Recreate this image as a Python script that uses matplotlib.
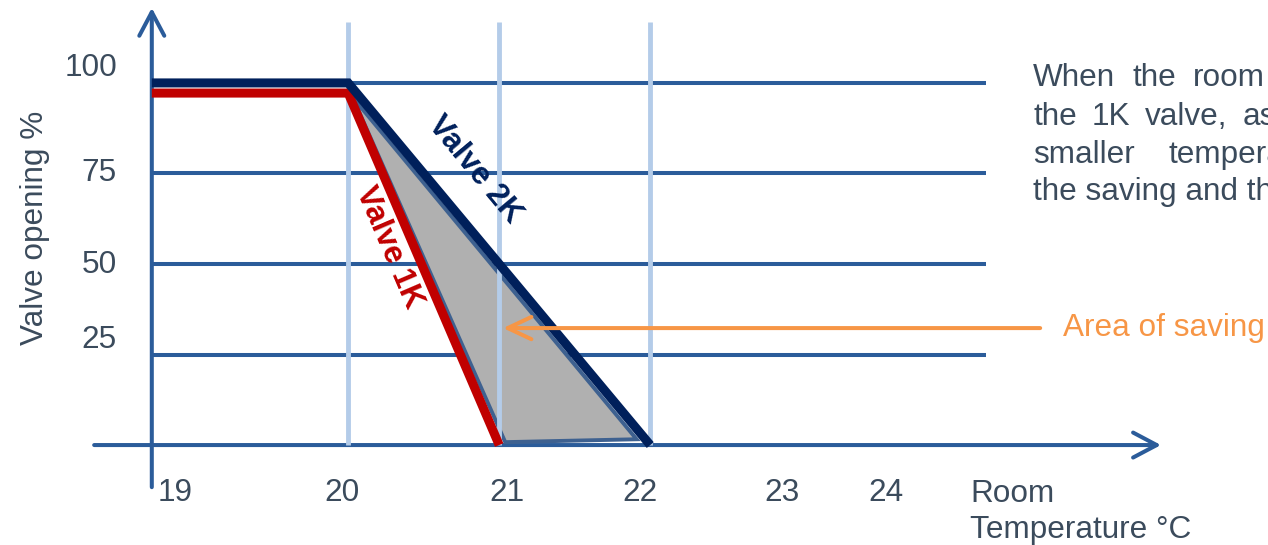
import matplotlib.pyplot as plt
from matplotlib.patches import Polygon, FancyArrowPatch

plt.rcParams['font.family'] = ['Liberation Sans', 'DejaVu Sans']

# valve curves (room temperature in °C, valve opening in %)
temp_2k = [18.70, 20, 22]
open_2k = [100, 100, 0]
temp_1k = [18.70, 20, 21]
open_1k = [97.2, 97.2, 0]

# shaded area of saving between the two valves
saving_temp = [20.03, 21.04, 21.91]
saving_open = [96, 0.8, 1.6]

ytick_values = [25, 50, 75, 100]
ytick_labels = ['25', '50', '75', '100']
xtick_labels = ['19', '20', '21', '22', '23', '24']
vline_temps = [20, 21, 22]

# explanatory text, justified word by word (runs off the slide at the right)
text_words = [['When', 'the', 'room'],
              ['the', '1K', 'valve,', 'as'],
              ['smaller', 'temperature'],
              ['the saving and the']]

# colours
grid_c = '#2b5c9a'
light_c = '#b4cce9'
navy = '#00205b'
red = '#c00000'
orange = '#f79646'
txt_c = '#3b4b5c'
fs = 22.7

fig = plt.figure(figsize=(12.68, 5.45), dpi=100)
ax = fig.add_axes([0, 0, 1, 1])
ax.set_xlim(17.695, 26.09)
ax.set_ylim(-27.6, 122.9)
ax.axis('off')

x_axis0 = 18.70   # where the vertical axis sits
x_grid_end = 24.22

# horizontal grid lines
for v in ytick_values:
    start = 20 if v == 100 else x_axis0
    ax.plot([start, x_grid_end], [v, v], color=grid_c, lw=2.9,
            solid_capstyle='butt', zorder=1)

# x axis with open arrow head
ax.add_patch(FancyArrowPatch((18.30, 0), (25.40, 0), arrowstyle='->,head_length=0.85,head_width=0.45',
                             mutation_scale=20, color=grid_c, lw=2.9, zorder=1.5))
# y axis with open arrow head
ax.add_patch(FancyArrowPatch((x_axis0, -12.4), (x_axis0, 121.5), arrowstyle='->,head_length=0.85,head_width=0.45',
                             mutation_scale=20, color=grid_c, lw=2.9, zorder=1.5))

# area of saving
ax.add_patch(Polygon(list(zip(saving_temp, saving_open)), closed=True,
                     facecolor='#b0b0b0', edgecolor='#3e6190', lw=2.8, zorder=2))

# light vertical lines
for t in vline_temps:
    ax.plot([t, t], [0, 116.9], color=light_c, lw=3.5, solid_capstyle='butt', zorder=3)

# valve lines
ax.plot(temp_1k, open_1k, color=red, lw=6.5, solid_capstyle='butt',
        solid_joinstyle='miter', zorder=4)
ax.plot(temp_2k, open_2k, color=navy, lw=6.5, solid_capstyle='butt',
        solid_joinstyle='miter', zorder=5)

ax.text(20.84, 76.0, 'Valve 2K', color=navy, fontsize=fs, fontweight='bold',
        rotation=-50.2, rotation_mode='anchor', ha='center', va='center', zorder=6)
ax.text(20.27, 54.5, 'Valve 1K', color=red, fontsize=fs, fontweight='bold',
        rotation=-66.8, rotation_mode='anchor', ha='center', va='center', zorder=6)

# arrow pointing to the area of saving
ax.add_patch(FancyArrowPatch((24.60, 32.3), (21.007, 32.3), arrowstyle='->,head_length=0.85,head_width=0.4',
                             mutation_scale=20, color=orange, lw=2.9, zorder=7))
ax.text(24.73, 32.3, 'Area of saving', color=orange, fontsize=fs, ha='left', va='center')

# tick labels (placed as on the slide)
ytick_y = [29.0, 49.7, 75.1, 104.1]
for y, lab in zip(ytick_y, ytick_labels):
    ax.text(18.47, y, lab, color=txt_c, fontsize=fs, ha='right', va='center')

xtick_x = [18.854, 19.96, 21.05, 21.93, 22.87, 23.56]
for x, lab in zip(xtick_x, xtick_labels):
    ax.text(x, -13.2, lab, color=txt_c, fontsize=fs, ha='center', va='center')

ax.text(17.93, 60, 'Valve opening %', color=txt_c, fontsize=fs, rotation=90,
        ha='center', va='center')
ax.text(24.12, -13.4, 'Room', color=txt_c, fontsize=fs, ha='left', va='center')
ax.text(24.12, -23.4, 'Temperature °C', color=txt_c, fontsize=fs, ha='left', va='center')

# word positions of the justified paragraph, in pixels from the left edge
word_px = [[1033, 1132, 1192],
           [1033, 1091, 1145, 1242],
           [1033, 1168],
           [1033]]
line_px = [78, 117, 155, 192]
for words, pxs, py in zip(text_words, word_px, line_px):
    for w, px in zip(words, pxs):
        ax.text(20 + (px - 348) / 151, (445 - py) / 3.62, w, color=txt_c,
                fontsize=fs, ha='left', va='center')

fig.savefig('out.png', dpi=100)
